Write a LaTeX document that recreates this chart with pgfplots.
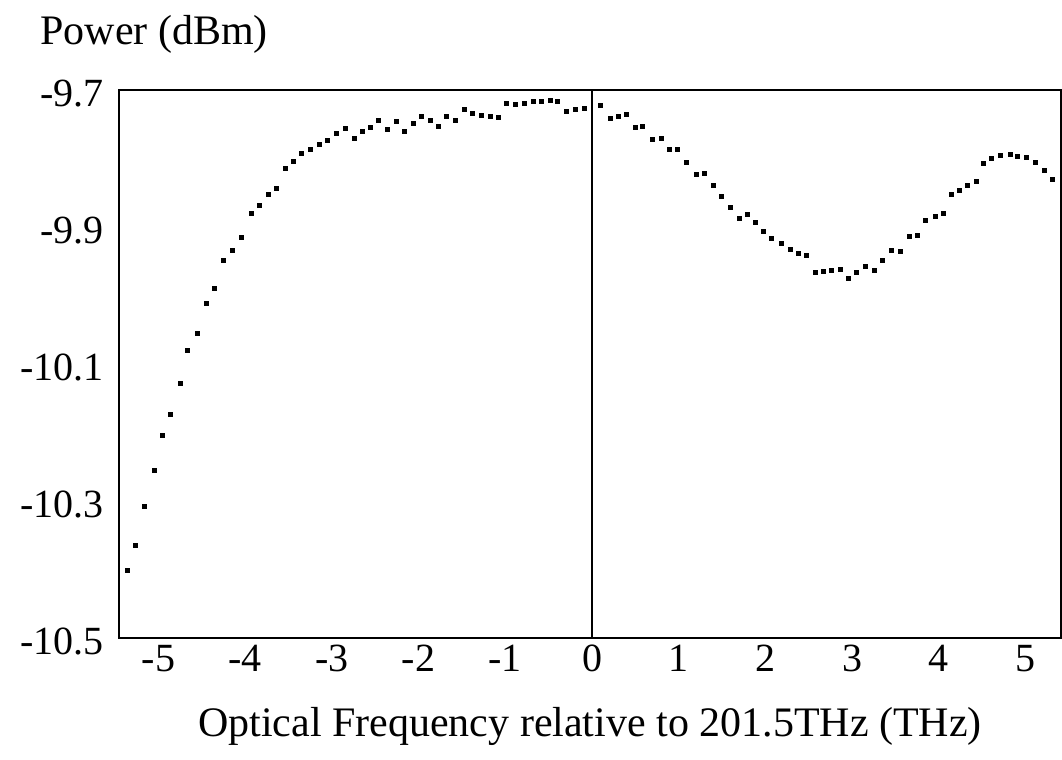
\documentclass[border=0pt]{standalone}
\usepackage{fontspec}
\setmainfont{Liberation Serif}
\usepackage{pgfplots}
\pgfplotsset{compat=1.18}
\begin{document}
\begin{tikzpicture}
\path[use as bounding box] (0,0) rectangle (531pt,380pt);
\begin{axis}[
  at={(59.5pt,61pt)}, anchor=south west,
  scale only axis, width=471pt, height=274pt,
  xmin=-5.455, xmax=5.409, ymin=-10.5, ymax=-9.7,
  axis line style={line width=1pt, black},
  xtick={-5,-4,-3,-2,-1,0,1,2,3,4,5},
  xticklabels={-5,-4,-3,-2,-1,0,1,2,3,4,5},
  ytick={-10.5,-10.3,-10.1,-9.9,-9.7},
  yticklabels={-10.5,-10.3,-10.1,-9.9,-9.7},
  major tick length=0pt,
  tick style={draw=none},
  xticklabel style={font=\fontsize{20}{24}\selectfont, inner sep=0pt, anchor=base, yshift=-17pt},
  yticklabel style={font=\fontsize{20}{24}\selectfont, inner sep=0pt, anchor=base east, xshift=-7.5pt, yshift=-8.5pt},
  xlabel={Optical Frequency relative to 201.5THz (THz)},
  ylabel={Power (dBm)},
  every axis x label/.style={at={(rel axis cs:0.5,0)}, anchor=base, yshift=-49.5pt, inner sep=0pt, font=\fontsize{21}{25}\selectfont},
  every axis y label/.style={at={(rel axis cs:0,1)}, anchor=base west, xshift=-39.5pt, yshift=22.5pt, inner sep=0pt, font=\fontsize{21}{25}\selectfont},
  clip=false,
]
\addplot[black, line width=1.4pt, forget plot] coordinates {(0,-10.5) (0,-9.7)};
\addplot[only marks, mark=square*, mark size=1pt, black] coordinates {
(-5.360,-10.401) (-5.270,-10.365) (-5.164,-10.308) (-5.052,-10.255) (-4.956,-10.204)
(-4.864,-10.173) (-4.752,-10.128) (-4.663,-10.080) (-4.552,-10.055) (-4.452,-10.011)
(-4.360,-9.990) (-4.253,-9.949) (-4.144,-9.934) (-4.040,-9.915) (-3.933,-9.880)
(-3.837,-9.868) (-3.734,-9.853) (-3.637,-9.843) (-3.533,-9.814) (-3.445,-9.804)
(-3.348,-9.793) (-3.253,-9.786) (-3.149,-9.779) (-3.048,-9.774) (-2.945,-9.764)
(-2.845,-9.756) (-2.745,-9.770) (-2.649,-9.761) (-2.561,-9.754) (-2.465,-9.745)
(-2.361,-9.757) (-2.261,-9.746) (-2.168,-9.760) (-2.061,-9.749) (-1.964,-9.739)
(-1.860,-9.745) (-1.773,-9.753) (-1.676,-9.739) (-1.580,-9.745) (-1.476,-9.728)
(-1.376,-9.734) (-1.272,-9.737) (-1.176,-9.739) (-1.081,-9.740) (-0.984,-9.720)
(-0.888,-9.721) (-0.784,-9.720) (-0.677,-9.717) (-0.580,-9.717) (-0.484,-9.715)
(-0.400,-9.716) (-0.292,-9.731) (-0.196,-9.729) (-0.092,-9.727)
(0.100,-9.723) (0.208,-9.741) (0.303,-9.738) (0.400,-9.735) (0.496,-9.754)
(0.585,-9.753) (0.700,-9.772) (0.796,-9.770) (0.892,-9.787) (0.988,-9.787)
(1.092,-9.805) (1.200,-9.823) (1.292,-9.822) (1.399,-9.839) (1.496,-9.856)
(1.592,-9.871) (1.699,-9.887) (1.791,-9.881) (1.888,-9.894) (1.976,-9.906)
(2.073,-9.916) (2.188,-9.924) (2.284,-9.933) (2.379,-9.939) (2.476,-9.942)
(2.572,-9.966) (2.668,-9.965) (2.765,-9.964) (2.860,-9.962) (2.956,-9.975)
(3.053,-9.967) (3.157,-9.957) (3.253,-9.964) (3.348,-9.949) (3.457,-9.934)
(3.561,-9.935) (3.660,-9.914) (3.757,-9.913) (3.849,-9.891) (3.956,-9.885)
(4.052,-9.880) (4.149,-9.852) (4.236,-9.846) (4.333,-9.840) (4.429,-9.834)
(4.513,-9.807) (4.610,-9.800) (4.714,-9.795) (4.821,-9.794) (4.910,-9.797)
(5.006,-9.798) (5.110,-9.806) (5.213,-9.817) (5.314,-9.830)
};
\end{axis}
\end{tikzpicture}
\end{document}
